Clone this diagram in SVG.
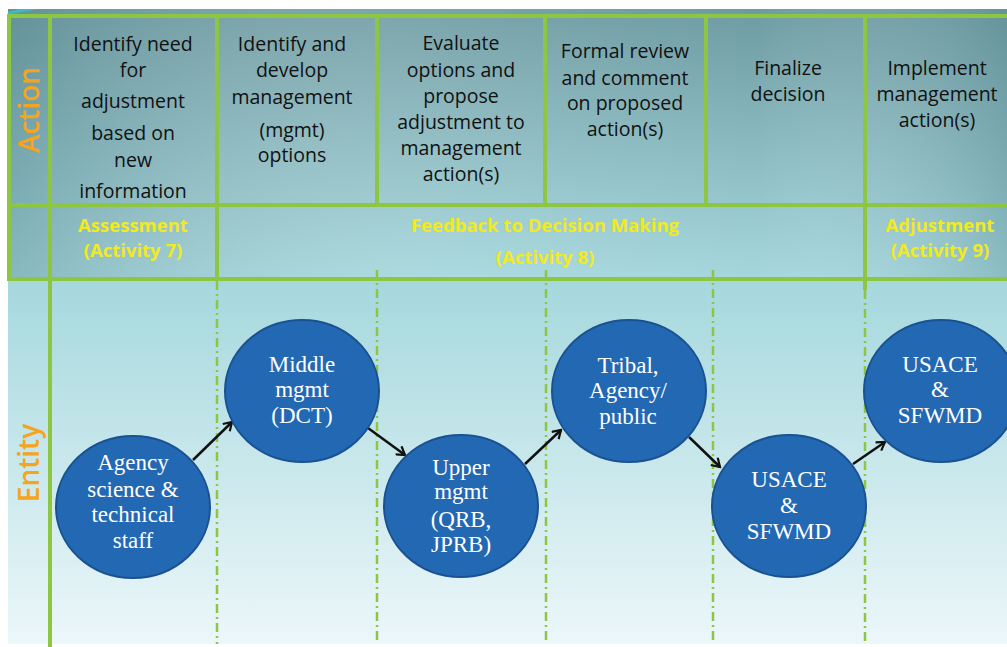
<svg xmlns="http://www.w3.org/2000/svg" width="1007" height="647" viewBox="0 0 1007 647">
<defs>
<linearGradient id="bg" x1="0" y1="9" x2="0" y2="644" gradientUnits="userSpaceOnUse">
<stop offset="0" stop-color="#6E9BA2"/>
<stop offset="0.3" stop-color="#95C6CC"/>
<stop offset="0.43" stop-color="#A5D8DD"/>
<stop offset="1" stop-color="#ECF7FA"/>
</linearGradient>
<linearGradient id="hshade" x1="8" y1="0" x2="1007" y2="0" gradientUnits="userSpaceOnUse">
<stop offset="0" stop-color="#4F7F88" stop-opacity="0.35"/>
<stop offset="0.45" stop-color="#ffffff" stop-opacity="0.08"/>
<stop offset="0.75" stop-color="#ffffff" stop-opacity="0"/>
<stop offset="1" stop-color="#4F7F88" stop-opacity="0.3"/>
</linearGradient>
<marker id="ah" markerWidth="12" markerHeight="12" refX="10" refY="6" orient="auto" markerUnits="userSpaceOnUse">
<path d="M2,1 L10,6 L2,11" fill="none" stroke="#111" stroke-width="2.2"/>
</marker>
</defs>
<style>
.grid{stroke:#8DC641;stroke-width:4;fill:none}
.dash{stroke:#8DC641;stroke-width:2.5;fill:none;stroke-dasharray:9 4 2 4}
.hd{font-family:"Open Sans",sans-serif;font-size:19.5px;fill:#111;text-anchor:middle}
.yl{font-family:"Open Sans",sans-serif;font-size:18.5px;font-weight:bold;fill:#F2EA1E;text-anchor:middle}
.side{font-family:"Open Sans",sans-serif;font-size:28px;font-weight:600;fill:#F5A41E;text-anchor:middle}
.node{fill:#2368B3;stroke:#1A5291;stroke-width:2}
.nt{font-family:"Liberation Serif",serif;font-size:23px;fill:#fff;text-anchor:middle}
.arr{stroke:#111;stroke-width:2.5;fill:none;marker-end:url(#ah)}
</style>
<rect x="8" y="9" width="999" height="635" fill="url(#bg)"/>
<rect x="8" y="9" width="999" height="271" fill="url(#hshade)"/>
<path d="M8,12 L8,15 L22,12 L38,9 L20,9 Z" fill="#3FB9C9"/>
<g id="grid">
<line class="grid" x1="8" y1="16" x2="1007" y2="16"/>
<line class="grid" x1="8" y1="205" x2="1007" y2="205"/>
<line class="grid" x1="8" y1="279" x2="1007" y2="279"/>
<line class="grid" x1="9" y1="14" x2="9" y2="281"/>
<line class="grid" x1="50" y1="14" x2="50" y2="647"/>
<line class="grid" x1="217" y1="14" x2="217" y2="281"/>
<line class="grid" x1="377" y1="14" x2="377" y2="207"/>
<line class="grid" x1="545" y1="14" x2="545" y2="207"/>
<line class="grid" x1="706" y1="14" x2="706" y2="207"/>
<line class="grid" x1="865" y1="14" x2="865" y2="290"/>
<line class="dash" x1="217" y1="281" x2="217" y2="644"/>
<line class="dash" x1="377" y1="270" x2="377" y2="644"/>
<line class="dash" x1="546" y1="270" x2="546" y2="644"/>
<line class="dash" x1="713" y1="270" x2="713" y2="644"/>
<line class="dash" x1="865" y1="290" x2="865" y2="644"/>
</g>
<g id="labels">
<text class="side" transform="translate(39,110) rotate(-90)">Action</text>
<text class="side" transform="translate(39,463) rotate(-90)">Entity</text>
</g>
<g id="action1">
<text class="hd" x="133" y="51">Identify need</text>
<text class="hd" x="133" y="77">for</text>
<text class="hd" x="133" y="108">adjustment</text>
<text class="hd" x="133" y="140">based on</text>
<text class="hd" x="133" y="167">new</text>
<text class="hd" x="133" y="198">information</text>
</g>
<g id="action2">
<text class="hd" x="292" y="51">Identify and</text>
<text class="hd" x="292" y="77">develop</text>
<text class="hd" x="292" y="104">management</text>
<text class="hd" x="292" y="137">(mgmt)</text>
<text class="hd" x="292" y="162">options</text>
</g>
<g id="action3">
<text class="hd" x="461" y="50">Evaluate</text>
<text class="hd" x="461" y="77">options and</text>
<text class="hd" x="461" y="103">propose</text>
<text class="hd" x="461" y="129">adjustment to</text>
<text class="hd" x="461" y="155">management</text>
<text class="hd" x="461" y="181">action(s)</text>
</g>
<g id="action4">
<text class="hd" x="625" y="58">Formal review</text>
<text class="hd" x="625" y="85">and comment</text>
<text class="hd" x="625" y="110">on proposed</text>
<text class="hd" x="625" y="136">action(s)</text>
</g>
<g id="action5">
<text class="hd" x="788" y="75">Finalize</text>
<text class="hd" x="788" y="101">decision</text>
</g>
<g id="action6">
<text class="hd" x="937" y="75">Implement</text>
<text class="hd" x="937" y="101">management</text>
<text class="hd" x="937" y="127">action(s)</text>
</g>
<g id="activity7">
<text class="yl" x="133" y="232">Assessment</text>
<text class="yl" x="133" y="257">(Activity 7)</text>
</g>
<g id="activity8">
<text class="yl" x="545" y="232">Feedback to Decision Making</text>
<text class="yl" x="545" y="264">(Activity 8)</text>
</g>
<g id="activity9">
<text class="yl" x="940" y="232">Adjustment</text>
<text class="yl" x="940" y="257">(Activity 9)</text>
</g>
<g id="connectors">
<line class="arr" x1="193" y1="460" x2="232" y2="422"/>
<line class="arr" x1="368" y1="428" x2="405" y2="455"/>
<line class="arr" x1="525" y1="464" x2="561" y2="430"/>
<line class="arr" x1="689" y1="437" x2="720" y2="467"/>
<line class="arr" x1="853" y1="464" x2="885" y2="442"/>
</g>
<g id="n1">
<ellipse class="node" cx="133" cy="507" rx="77" ry="71"/>
<text class="nt" x="133" y="470">Agency</text>
<text class="nt" x="133" y="497">science &amp;</text>
<text class="nt" x="133" y="522">technical</text>
<text class="nt" x="133" y="548">staff</text>
</g>
<g id="n2">
<ellipse class="node" cx="302" cy="391" rx="77" ry="71"/>
<text class="nt" x="302" y="372">Middle</text>
<text class="nt" x="302" y="397">mgmt</text>
<text class="nt" x="302" y="423">(DCT)</text>
</g>
<g id="n3">
<ellipse class="node" cx="461" cy="506" rx="77" ry="71"/>
<text class="nt" x="461" y="475">Upper</text>
<text class="nt" x="461" y="499">mgmt</text>
<text class="nt" x="461" y="527">(QRB,</text>
<text class="nt" x="461" y="552">JPRB)</text>
</g>
<g id="n4">
<ellipse class="node" cx="629" cy="391" rx="77" ry="71"/>
<text class="nt" x="628" y="373">Tribal,</text>
<text class="nt" x="628" y="398">Agency/</text>
<text class="nt" x="628" y="424">public</text>
</g>
<g id="n5">
<ellipse class="node" cx="789" cy="506" rx="77" ry="71"/>
<text class="nt" x="789" y="487">USACE</text>
<text class="nt" x="789" y="513">&amp;</text>
<text class="nt" x="789" y="539">SFWMD</text>
</g>
<g id="n6">
<ellipse class="node" cx="941" cy="391" rx="77" ry="71"/>
<text class="nt" x="940" y="372">USACE</text>
<text class="nt" x="940" y="397">&amp;</text>
<text class="nt" x="940" y="423">SFWMD</text>
</g>
</svg>
